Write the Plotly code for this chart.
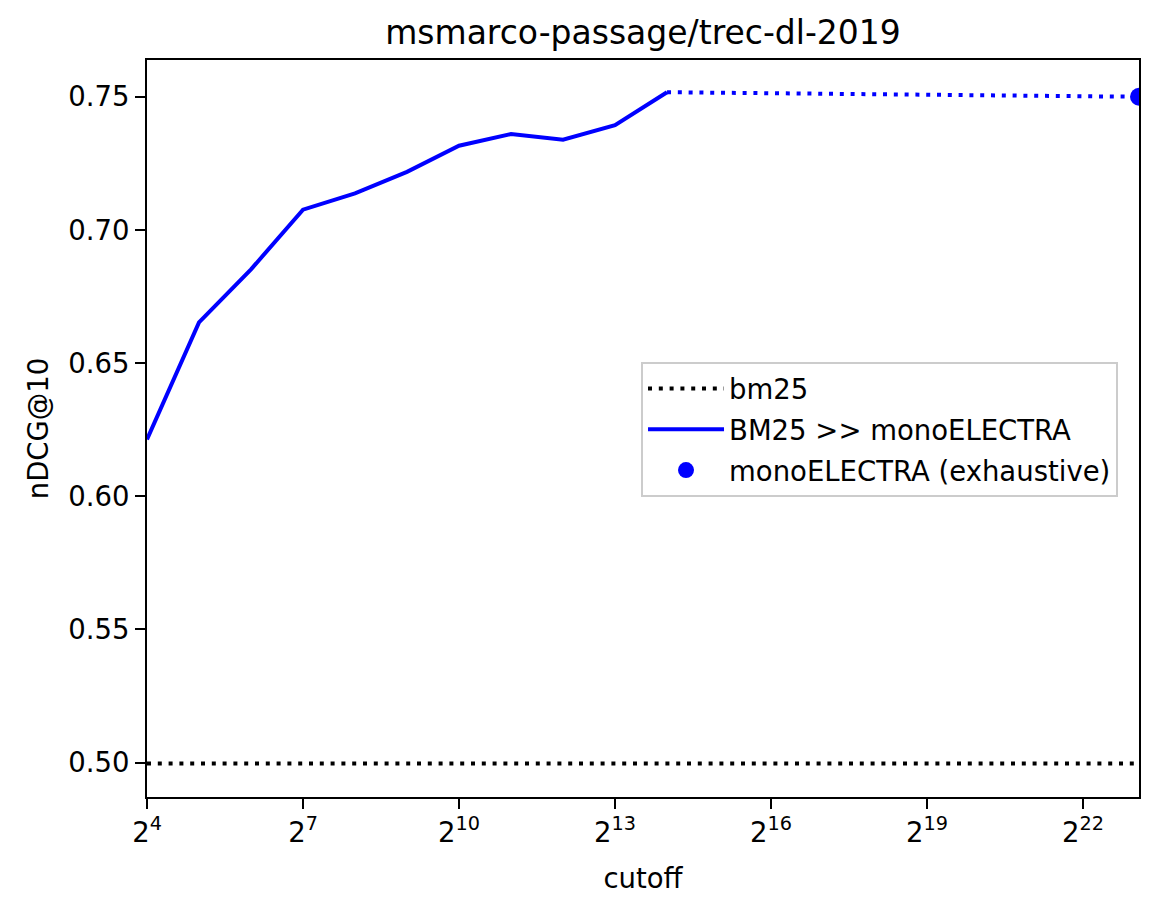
import math

import plotly.graph_objects as go


# rerank cutoffs (powers of two) and nDCG@10 of BM25 >> monoELECTRA
cutoffs = [2 ** k for k in range(4, 15)]
ndcg_rerank = [0.6213, 0.6653, 0.6852, 0.7076, 0.7137, 0.7218, 0.7316, 0.7360, 0.7339, 0.7393, 0.7517]

# baseline and exhaustive run
bm25_ndcg = 0.4997
corpus_size = 8841823
exhaustive_ndcg = 0.7500

x_tick_powers = [4, 7, 10, 13, 16, 19, 22]
y_ticks = [0.50, 0.55, 0.60, 0.65, 0.70, 0.75]

BLUE = '#0000ff'
DOT = '4px,6.8px'
FONT = 'DejaVu Sans, Liberation Sans, sans-serif'


def draw():
    fig = go.Figure()

    # bm25 baseline over the full axis
    fig.add_trace(go.Scatter(
        x=[cutoffs[0], corpus_size], y=[bm25_ndcg, bm25_ndcg],
        mode='lines', name='bm25', legendgroup='a',
        line=dict(color='black', width=4, dash=DOT)))

    fig.add_trace(go.Scatter(
        x=cutoffs, y=ndcg_rerank,
        mode='lines', name='BM25 >> monoELECTRA', legendgroup='b',
        line=dict(color=BLUE, width=4)))

    # dotted extension up to the exhaustive point
    fig.add_trace(go.Scatter(
        x=[cutoffs[-1], corpus_size], y=[ndcg_rerank[-1], exhaustive_ndcg],
        mode='lines', showlegend=False, legendgroup='b',
        line=dict(color=BLUE, width=4, dash=DOT)))

    fig.add_trace(go.Scatter(
        x=[corpus_size], y=[exhaustive_ndcg],
        mode='markers', name='monoELECTRA (exhaustive)', legendgroup='c',
        marker=dict(color=BLUE, size=18)))

    axis_common = dict(
        showline=True, linecolor='black', linewidth=2, mirror=True,
        ticks='outside', ticklen=10, tickwidth=2, tickcolor='black',
        showgrid=False, zeroline=False,
        tickfont=dict(size=27.5, color='black'),
    )

    fig.update_xaxes(
        type='log',
        range=[math.log10(cutoffs[0]), math.log10(corpus_size)],
        tickvals=[2 ** p for p in x_tick_powers],
        ticktext=['2<sup>%d</sup>' % p for p in x_tick_powers],
        title=dict(text='cutoff', font=dict(size=27.5, color='black'), standoff=22),
        **axis_common)
    fig.update_yaxes(
        range=[0.4871, 0.7638],
        tickvals=y_ticks, tickformat='.2f',
        title=dict(text='nDCG@10', font=dict(size=27.5, color='black'), standoff=12),
        **axis_common)

    # page body has an 8px margin, so the figure is a bit smaller than the window
    fig.update_layout(
        width=1150, height=898,
        margin=dict(l=139, r=19, t=52, b=109, autoexpand=False),
        paper_bgcolor='white', plot_bgcolor='white',
        font=dict(family=FONT, color='black'),
        title=dict(text='msmarco-passage/trec-dl-2019', x=0.5, xanchor='center',
                   xref='paper', y=1 - 24 / 898, yanchor='middle',
                   font=dict(size=33, color='black')),
        legend=dict(x=0.498, y=0.590, xanchor='left', yanchor='top',
                    bgcolor='rgba(255,255,255,0.8)', bordercolor='#cccccc', borderwidth=2,
                    font=dict(size=27.5, color='black'),
                    traceorder='grouped', tracegroupgap=2, itemwidth=76),
    )

    fig.write_html('out.html')


draw()
